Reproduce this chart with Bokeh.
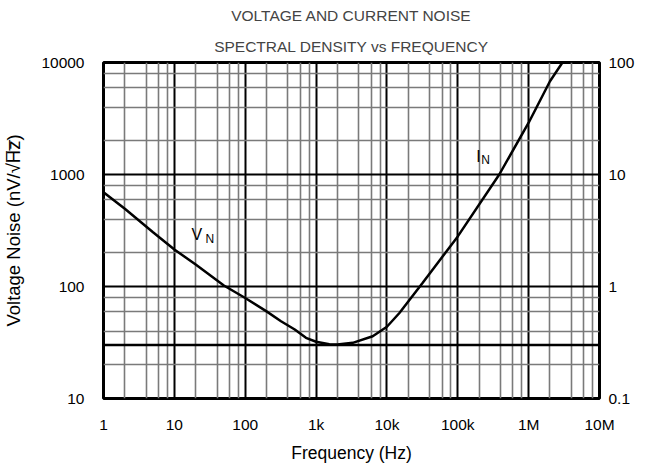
from bokeh.plotting import figure
from bokeh.models import Range1d, LogAxis, LogScale, FixedTicker, Title
from bokeh.core.properties import value
from bokeh.embed import file_html
from bokeh.resources import INLINE

# ---- data ----
title_lines = ["VOLTAGE AND CURRENT NOISE", "SPECTRAL DENSITY vs FREQUENCY"]
x_ticks = [1, 10, 100, 1e3, 1e4, 1e5, 1e6, 1e7]
x_tick_labels = ["1", "10", "100", "1k", "10k", "100k", "1M", "10M"]
y_ticks = [10, 100, 1000, 10000]
y_tick_labels = ["10", "100", "1000", "10000"]
y2_ticks = [0.1, 1, 10, 100]
y2_tick_labels = ["0.1", "1", "10", "100"]
minor_mult = [2, 4, 6, 8]

# Voltage noise (nV/rtHz), left axis
vn_freq = [1, 2, 5, 10, 20, 50, 100, 200, 320, 500, 720, 1000, 1540, 2000]
vn_val = [695, 494, 305, 214, 157, 102, 79, 60, 49, 41.3, 34.8, 32.1, 30.5, 30.3]

# Flat level (nV/rtHz) across full band
flat_freq = [1, 1e7]
flat_val = [30, 30]

# Current noise (pA/rtHz), right axis
in_freq = [2000, 3290, 6300, 10000, 15000, 32000, 100000, 385000, 1e6, 2e6, 3e6]
in_val = [0.303, 0.314, 0.36, 0.437, 0.58, 1.08, 2.8, 10, 29, 68, 100]

# curve label anchors
vn_label_at = (17.4, 290)
in_label_at = (182000, 14.5)

FONT = "Liberation Sans"

x_minor = [m * d for d in x_ticks[:-1] for m in minor_mult]
y_minor = [m * d for d in y_ticks[:-1] for m in minor_mult]

p = figure(frame_width=496, frame_height=336, output_backend="svg", toolbar_location=None,
           x_axis_type="log", y_axis_type="log",
           x_range=Range1d(x_ticks[0], x_ticks[-1]), y_range=Range1d(y_ticks[0], y_ticks[-1]),
           min_border_left=95, min_border_right=46, min_border_top=55, min_border_bottom=56)
p.extra_y_ranges = {"right": Range1d(y2_ticks[0], y2_ticks[-1])}
p.extra_y_scales = {"right": LogScale()}

p.title.text = title_lines[0]
p.title.align = "center"
p.title.text_font = FONT
p.title.text_font_size = "15.5px"
p.title.text_font_style = "normal"
p.title.standoff = 8
p.add_layout(Title(text=title_lines[1], align="center", text_font=FONT,
                   text_font_size="15.5px", text_font_style="normal", standoff=16), "above")

xt = FixedTicker(ticks=x_ticks, minor_ticks=x_minor)
yt = FixedTicker(ticks=y_ticks, minor_ticks=y_minor)
p.xaxis.ticker = xt
p.yaxis.ticker = yt
p.xaxis.major_label_overrides = dict(zip(x_ticks, x_tick_labels))
p.yaxis.major_label_overrides = dict(zip(y_ticks, y_tick_labels))
p.xaxis.axis_label = "Frequency (Hz)"
p.yaxis.axis_label = "Voltage Noise (nV/\u221aH\u0305z\u0305)"

ax2 = LogAxis(y_range_name="right", ticker=FixedTicker(ticks=y2_ticks))
ax2.major_label_overrides = dict(zip(y2_ticks, y2_tick_labels))
p.add_layout(ax2, "right")

for ax in [p.xaxis[0], p.yaxis[0], ax2]:
    ax.axis_line_color = None
    ax.major_tick_line_color = None
    ax.minor_tick_line_color = None
    ax.major_label_text_font = FONT
    ax.major_label_text_font_size = "15.5px"
    ax.major_label_text_color = "black"
    ax.axis_label_text_font = FONT
    ax.axis_label_text_font_size = "17.5px"
    ax.axis_label_text_font_style = "normal"
    ax.axis_label_text_color = "black"
p.yaxis.axis_label_text_font_size = "18.5px"
p.xaxis.major_label_standoff = 11
p.yaxis.major_label_standoff = 13
ax2.major_label_standoff = 3
p.xaxis.axis_label_standoff = 7
p.yaxis.axis_label_standoff = 14

for g in [p.xgrid[0], p.ygrid[0]]:
    g.grid_line_color = "black"
    g.grid_line_width = 2
    g.minor_grid_line_color = "#7a7a7a"
    g.minor_grid_line_width = 1.6
p.xgrid.ticker = xt
p.ygrid.ticker = yt

p.outline_line_color = "black"
p.outline_line_width = 3
p.background_fill_color = "white"

p.line(flat_freq, flat_val, line_color="black", line_width=2.5)
p.line(vn_freq, vn_val, line_color="black", line_width=2.5)
p.line(in_freq, in_val, line_color="black", line_width=2.5, y_range_name="right")

p.text(x=[vn_label_at[0]], y=[vn_label_at[1]], text=["V"], text_font=value(FONT),
       text_font_size="16px", text_baseline="alphabetic", text_align="left")
p.text(x=[vn_label_at[0]], y=[vn_label_at[1]], text=["N"], text_font=value(FONT),
       text_font_size="12px", text_baseline="alphabetic", text_align="left",
       x_offset=14, y_offset=4)
p.text(x=[in_label_at[0]], y=[in_label_at[1]], text=["I"], text_font=value(FONT),
       text_font_size="16px", text_baseline="alphabetic", text_align="left",
       y_range_name="right")
p.text(x=[in_label_at[0]], y=[in_label_at[1]], text=["N"], text_font=value(FONT),
       text_font_size="12px", text_baseline="alphabetic", text_align="left",
       x_offset=5, y_offset=4, y_range_name="right")

open("out.html", "w").write(file_html(p, INLINE))
